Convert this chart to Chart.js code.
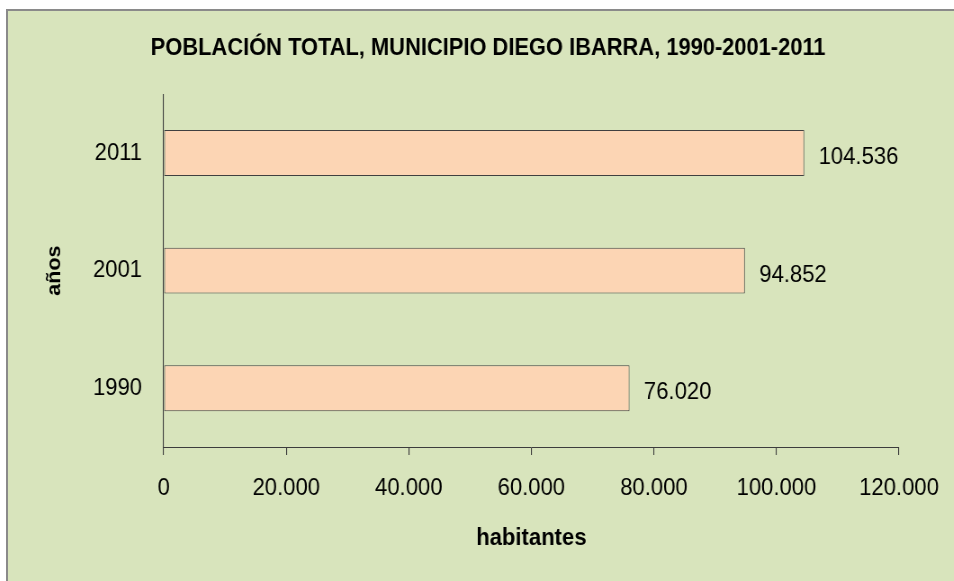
<!DOCTYPE html>
<html>
<head>
<meta charset="utf-8">
<script src="https://cdn.jsdelivr.net/npm/chart.js@4/dist/chart.umd.min.js"></script>
<style>
  html, body { margin: 0; padding: 0; background: #ffffff; overflow: hidden; width: 954px; height: 581px; }
  #frame { position: absolute; left: 6px; top: 9px; width: 962px; height: 580px;
           border-left: 2px solid #8a8a8a; border-top: 2px solid #8a8a8a; background: #d8e4bc; }
  #squeeze { width: 1067px; height: 570px; transform: scaleX(0.9); transform-origin: 0 0; }
</style>
</head>
<body>
<div id="frame"><div id="squeeze"><canvas id="c" width="1067" height="570"></canvas></div></div>
<script>
const years = ['1990', '2001', '2011'];
const population = [76020, 94852, 104536];
const xTicks = [0, 20000, 40000, 60000, 80000, 100000, 120000];
const chartTitle = 'POBLACIÓN TOTAL, MUNICIPIO DIEGO IBARRA, 1990-2001-2011';
const xTitle = 'habitantes';
const yTitle = 'años';

const FONT = "'Liberation Sans', Arial, sans-serif";
function fmt(v) { return String(Math.round(v)).replace(/\B(?=(\d{3})+(?!\d))/g, '.'); }

const valueLabels = {
  id: 'valueLabels',
  afterDatasetsDraw(chart) {
    const ctx = chart.ctx;
    const meta = chart.getDatasetMeta(0);
    ctx.save();
    ctx.font = '24.5px ' + FONT;
    ctx.fillStyle = '#000';
    ctx.textAlign = 'left';
    ctx.textBaseline = 'alphabetic';
    meta.data.forEach((bar, i) => {
      ctx.fillText(fmt(chart.data.datasets[0].data[i]), bar.x + 16, bar.y + 11);
    });
    ctx.restore();
  }
};

// centre the title over the whole chart box rather than the padded area
const titleSpan = {
  id: 'titleSpan',
  afterLayout(chart) {
    const t = chart.titleBlock;
    if (t) { t.left = 0; t.right = chart.width; t.width = chart.width; }
  }
};

new Chart(document.getElementById('c'), {
  type: 'bar',
  data: {
    labels: years,
    datasets: [{
      data: population,
      backgroundColor: '#fcd5b4',
      borderColor: '#404040',
      borderWidth: 1,
      borderSkipped: false,
      categoryPercentage: 1,
      barPercentage: 0.39
    }]
  },
  options: {
    indexAxis: 'y',
    responsive: false,
    animation: false,
    layout: { padding: { left: 0, right: 77, top: 0, bottom: 0 } },
    plugins: {
      legend: { display: false },
      tooltip: { enabled: false },
      title: {
        display: true,
        text: chartTitle,
        color: '#000',
        font: { family: FONT, size: 24.3, weight: 'bold' },
        padding: { top: 23, bottom: 31 }
      }
    },
    scales: {
      x: {
        min: 0, max: 120000,
        afterBuildTicks(scale) { scale.ticks = xTicks.map(v => ({ value: v })); },
        afterFit(scale) { scale.height = 134; },
        grid: { display: true, drawOnChartArea: false, drawTicks: true, tickLength: 8, color: '#3c3c3c', lineWidth: 1.1 },
        border: { display: true, color: '#3c3c3c', width: 1 },
        ticks: { color: '#000', padding: 19, font: { family: FONT, size: 24.5 }, callback: v => fmt(v), maxRotation: 0 },
        title: { display: true, text: xTitle, color: '#000', font: { family: FONT, size: 24.5, weight: 'bold' }, padding: { top: 0, bottom: 28 } }
      },
      y: {
        reverse: true,
        afterFit(scale) { scale.width = 173; },
        grid: { display: false, drawTicks: false },
        border: { display: true, color: '#3c3c3c', width: 1.1 },
        ticks: { color: '#000', padding: 24, font: { family: FONT, size: 24.5 } },
        title: { display: true, text: yTitle, color: '#000', font: { family: FONT, size: 21.5, weight: 'bold' }, padding: { top: 39, bottom: 0 } }
      }
    }
  },
  plugins: [valueLabels, titleSpan]
});
</script>
</body>
</html>
